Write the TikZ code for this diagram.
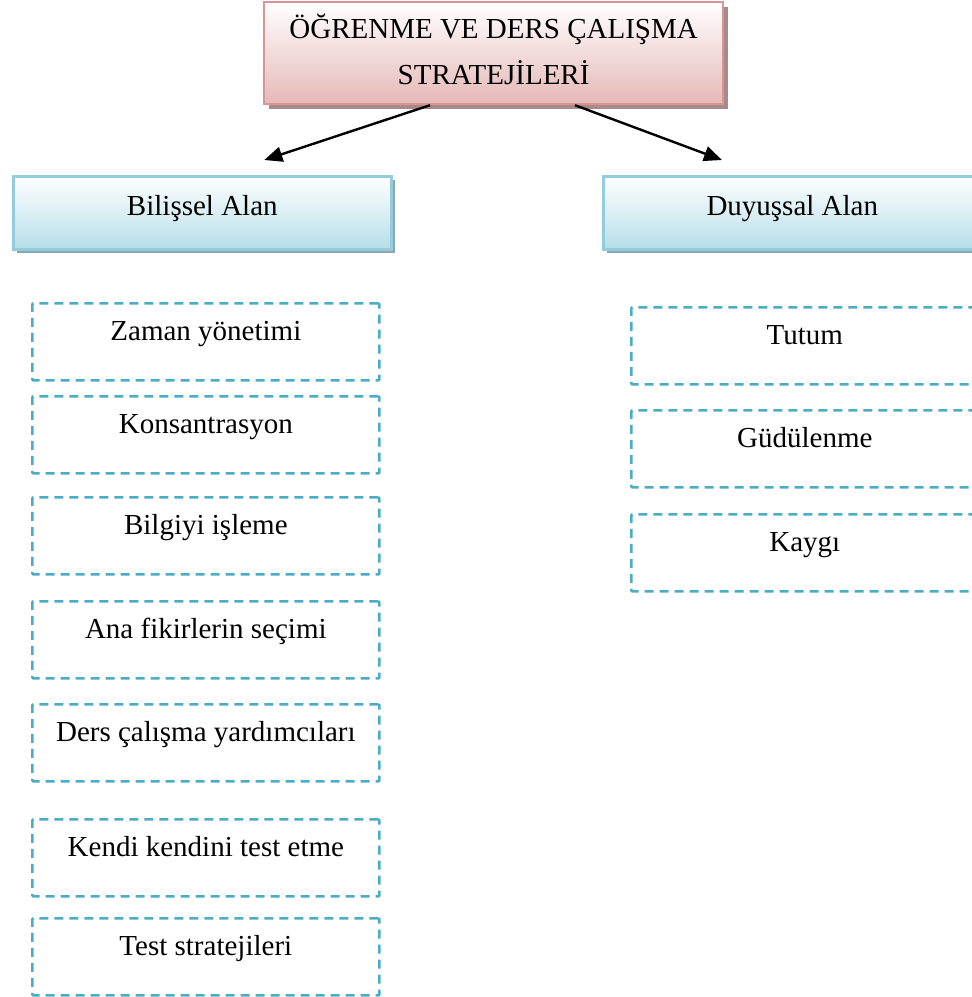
\documentclass[tikz,border=0pt]{standalone}
\usepackage{fontspec}
\setmainfont{Liberation Serif}
\usetikzlibrary{arrows.meta,shadows,calc}
\definecolor{pinkedge}{HTML}{D99594}
\definecolor{pinkfill}{HTML}{E5B8B7}
\definecolor{pinkshadow}{HTML}{A88A8A}
\definecolor{blueedge}{HTML}{93CDDD}
\definecolor{bluefill}{HTML}{B6DDE8}
\definecolor{blueshadow}{HTML}{8CA5AF}
\definecolor{dashblue}{HTML}{4BACC6}

\begin{document}
\begin{tikzpicture}[x=1pt,y=-1pt,
  every node/.style={font=\fontsize{29}{46}\selectfont, inner sep=0pt},
  titlebox/.style={draw=pinkedge, line width=2.2pt, top color=white, bottom color=pinkfill,
    minimum width=459pt, text height=82pt, text depth=20pt, align=center,
    drop shadow={shadow xshift=5pt, shadow yshift=-5pt, opacity=1, fill=pinkshadow}},
  areabox/.style={draw=blueedge, line width=2.6pt, top color=white, bottom color=bluefill,
    minimum width=378pt, text height=39pt, text depth=34pt,
    drop shadow={shadow xshift=4pt, shadow yshift=-4pt, opacity=1, fill=blueshadow}},
  itembox/.style={draw=dashblue, line width=2.7pt, dash pattern=on 9pt off 6pt,
    rounded corners=1pt, minimum width=347pt, text height=37pt, text depth=40pt},
  arr/.style={line width=2.4pt, -{Triangle[length=18pt,width=15pt]}}]

\clip (0,0) rectangle (972,997);

% top level
\node[titlebox, anchor=north west] (title) at (263,1) {ÖĞRENME VE DERS ÇALIŞMA\\STRATEJİLERİ};

% the two areas
\node[areabox, anchor=north west] (bil) at (12,175) {Bilişsel Alan};
\node[areabox, anchor=north west] (duy) at (602,175) {Duyuşsal Alan};

\draw[arr] ($(title.south west)+(167,0)$) -- ($(bil.north)+(62,-15)$);
\draw[arr] ($(title.south west)+(312,0)$) -- ($(duy.north west)+(120,-15)$);

% cognitive strategies
\node[itembox, anchor=north west] (zaman)  at (31,302) {Zaman yönetimi};
\node[itembox, anchor=north west] (kons)   at (31,395) {Konsantrasyon};
\node[itembox, anchor=north west] (bilgi)  at (31,496) {Bilgiyi işleme};
\node[itembox, anchor=north west] (ana)    at (31,600) {Ana fikirlerin seçimi};
\node[itembox, anchor=north west] (ders)   at (31,703) {Ders çalışma yardımcıları};
\node[itembox, anchor=north west] (kendi)  at (31,818) {Kendi kendini test etme};
\node[itembox, anchor=north west] (test)   at (31,917) {Test stratejileri};

% affective strategies
\node[itembox, anchor=north west] (tutum)  at (630,306) {Tutum};
\node[itembox, anchor=north west] (gudu)   at (630,409) {Güdülenme};
\node[itembox, anchor=north west] (kaygi)  at (630,513) {Kaygı};
\end{tikzpicture}
\end{document}
